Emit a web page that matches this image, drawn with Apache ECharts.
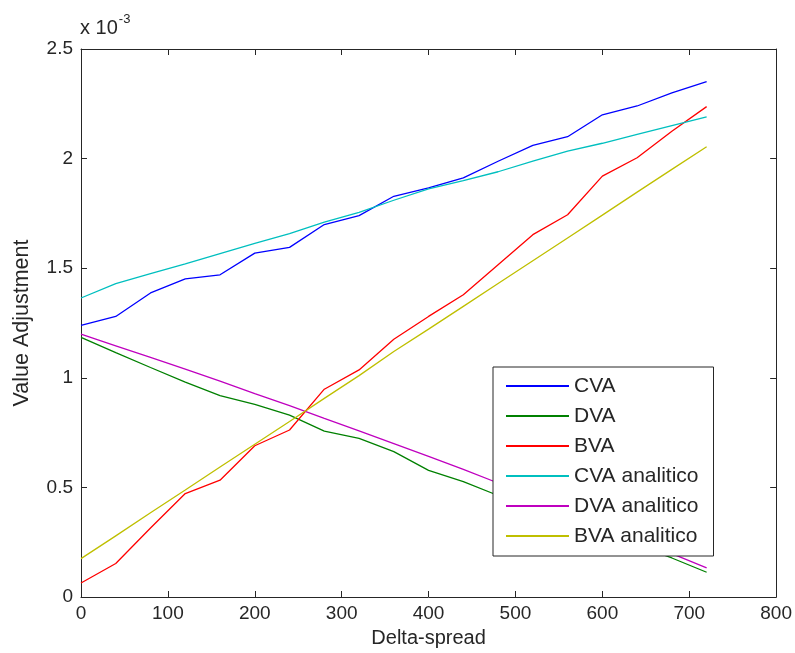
<!DOCTYPE html>
<html>
<head>
<meta charset="utf-8">
<script src="https://cdn.jsdelivr.net/npm/echarts@6/dist/echarts.min.js"></script>
<style>
html,body{margin:0;padding:0;background:#fff;}
#chart{width:795px;height:653px;}
</style>
</head>
<body>
<div id="chart"></div>
<script>
// Delta-spread values (x axis)
const deltaSpread = [0, 40, 80, 120, 160, 200, 240, 280, 320, 360, 400, 440, 480, 520, 560, 600, 640, 680, 720];
// Values in units of 1e-3
const cva = [1.239, 1.28, 1.387, 1.451, 1.47, 1.569, 1.595, 1.699, 1.74, 1.828, 1.866, 1.912, 1.988, 2.06, 2.10, 2.20, 2.24, 2.30, 2.351];
const dva = [1.184, 1.115, 1.047, 0.98, 0.919, 0.879, 0.83, 0.757, 0.724, 0.663, 0.578, 0.526, 0.463, 0.40, 0.345, 0.29, 0.235, 0.178, 0.113];
const bva = [0.064, 0.153, 0.315, 0.472, 0.533, 0.69, 0.762, 0.948, 1.036, 1.176, 1.28, 1.379, 1.516, 1.653, 1.744, 1.92, 2.004, 2.125, 2.237];
const cvaAnalitico = [1.364, 1.43, 1.475, 1.52, 1.567, 1.613, 1.658, 1.71, 1.755, 1.81, 1.862, 1.90, 1.94, 1.988, 2.034, 2.07, 2.11, 2.15, 2.19];
const dvaAnalitico = [1.199, 1.146, 1.093, 1.04, 0.985, 0.928, 0.873, 0.815, 0.758, 0.70, 0.642, 0.582, 0.52, 0.458, 0.395, 0.33, 0.265, 0.198, 0.133];
const bvaAnalitico = [0.175, 0.279, 0.384, 0.488, 0.593, 0.697, 0.801, 0.906, 1.01, 1.12, 1.222, 1.326, 1.43, 1.534, 1.638, 1.742, 1.847, 1.951, 2.054];
const seriesNames = ['CVA', 'DVA', 'BVA', 'CVA analitico', 'DVA analitico', 'BVA analitico'];
const seriesColors = ['#0000ff', '#008000', '#ff0000', '#00bfbf', '#bf00bf', '#bfbf00'];
const seriesData = [cva, dva, bva, cvaAnalitico, dvaAnalitico, bvaAnalitico];
const xTicks = [0, 100, 200, 300, 400, 500, 600, 700, 800];
const yTicks = [0, 0.5, 1, 1.5, 2, 2.5];

const FONT = 'Liberation Sans, Arial, sans-serif';
const chart = echarts.init(document.getElementById('chart'), null, {renderer: 'canvas'});

const axisLineStyle = {color: '#262626', width: 1};
const option = {
  animation: false,
  backgroundColor: '#ffffff',
  grid: {left: 81, right: 18, top: 49, bottom: 56, containLabel: false},
  xAxis: [{
    type: 'value', min: xTicks[0], max: xTicks[xTicks.length - 1], interval: 100,
    name: 'Delta-spread', nameLocation: 'middle', nameGap: 31,
    nameTextStyle: {fontFamily: FONT, fontSize: 20, color: '#262626'},
    axisLine: {show: true, onZero: false, lineStyle: axisLineStyle},
    axisTick: {show: true, inside: true, length: 6, lineStyle: axisLineStyle},
    axisLabel: {fontFamily: FONT, fontSize: 19, color: '#262626', margin: 7},
    splitLine: {show: false}
  }, {
    type: 'value', min: xTicks[0], max: xTicks[xTicks.length - 1], interval: 100, position: 'top',
    axisLine: {show: true, onZero: false, lineStyle: axisLineStyle},
    axisTick: {show: true, inside: true, length: 6, lineStyle: axisLineStyle},
    axisLabel: {show: false}, splitLine: {show: false}
  }],
  yAxis: [{
    type: 'value', min: yTicks[0], max: yTicks[yTicks.length - 1], interval: 0.5,
    name: 'Value Adjustment', nameLocation: 'middle', nameGap: 48,
    nameTextStyle: {fontFamily: FONT, fontSize: 21.5, color: '#262626'},
    axisLine: {show: true, onZero: false, lineStyle: axisLineStyle},
    axisTick: {show: true, inside: true, length: 6, lineStyle: axisLineStyle},
    axisLabel: {fontFamily: FONT, fontSize: 19, color: '#262626', margin: 8,
      formatter: v => String(v)},
    splitLine: {show: false}
  }, {
    type: 'value', min: yTicks[0], max: yTicks[yTicks.length - 1], interval: 0.5, position: 'right',
    axisLine: {show: true, onZero: false, lineStyle: axisLineStyle},
    axisTick: {show: true, inside: true, length: 6, lineStyle: axisLineStyle},
    axisLabel: {show: false}, splitLine: {show: false}
  }],
  legend: {
    orient: 'vertical', left: 493, top: 367,
    data: seriesNames,
    icon: 'rect', itemWidth: 63, itemHeight: 2, itemGap: 8,
    padding: [8, 15, 9, 13],
    backgroundColor: '#ffffff', borderColor: '#262626', borderWidth: 1,
    textStyle: {fontFamily: FONT, fontSize: 21, color: '#262626', lineHeight: 22},
    selectedMode: false
  },
  graphic: [{
    type: 'text', left: 80, top: 13,
    style: {
      text: '{a|x 10}{b|-3}',
      rich: {
        a: {fontFamily: FONT, fontSize: 20, fill: '#262626', verticalAlign: 'bottom', lineHeight: 25},
        b: {fontFamily: FONT, fontSize: 13, fill: '#262626', verticalAlign: 'top', lineHeight: 25, padding: [0, 0, 10, 1]}
      }
    }
  }],
  series: seriesNames.map((name, i) => ({
    name: name, type: 'line', xAxisIndex: 0, yAxisIndex: 0,
    data: deltaSpread.map((x, j) => [x, seriesData[i][j]]),
    symbol: 'none', smooth: false,
    lineStyle: {color: seriesColors[i], width: 1.3},
    itemStyle: {color: seriesColors[i]},
    z: 2 + i * 0.01
  }))
};
chart.setOption(option);
</script>
</body>
</html>
